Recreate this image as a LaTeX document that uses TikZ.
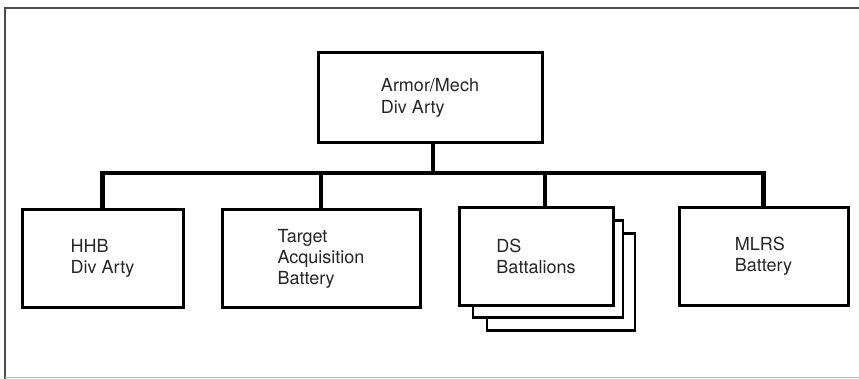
\documentclass[tikz,border=0pt]{standalone}
\usepackage{fontspec}
\setmainfont{TeX Gyre Heros}
\begin{document}
\begin{tikzpicture}[x=1pt,y=-1pt,
  box/.style={draw=black, line width=3pt, fill=white, rectangle, inner sep=0pt, outer sep=0pt,
    align=left, font=\fontsize{18}{21}\selectfont, text=black!85},
  sheet/.style={draw=black, line width=2.6pt, fill=white, rectangle, inner sep=0pt, outer sep=0pt},
  conn/.style={draw=black, line width=4.5pt, line join=miter}]
\useasboundingbox (0,0) rectangle (859,379);
% frame
\draw[black!70, line width=2pt] (5,379) -- (5,8) -- (862,8);
\draw[black!30, line width=1pt] (5,377) -- (862,377);
% nodes
\node[box, minimum width=224pt, minimum height=90pt] (armor) at (430,98) {Armor/Mech\\[1pt]Div Arty};
\node[box, minimum width=161pt, minimum height=97pt] (hhb) at (102.5,258.5) {HHB\\Div Arty};
\node[box, minimum width=198pt, minimum height=97pt] (tab) at (321,258.5) {Target\\Acquisition\\Battery};
\node[sheet, minimum width=148pt, minimum height=97pt] (ds3) at (561,282) {};
\node[sheet, minimum width=150pt, minimum height=97pt] (ds2) at (548,269) {};
\node[box, minimum width=154pt, minimum height=97pt] (ds) at (536,256.5) {DS\\Battalions};
\node[box, minimum width=169pt, minimum height=97pt] (mlrs) at (763.5,256.5) {MLRS\\Battery};
% connectors
\coordinate (bus) at (0,173);
\coordinate (stem) at ([xshift=3pt]armor.south);
\coordinate (dsin) at ([xshift=9pt]ds.north);
\draw[conn] (stem) -- (stem |- bus);
\draw[conn] (hhb.north) -- (hhb.north |- bus) -- (mlrs.north |- bus) -- (mlrs.north);
\draw[conn] (tab.north) -- (tab.north |- bus);
\draw[conn] (dsin) -- (dsin |- bus);
\end{tikzpicture}
\end{document}
